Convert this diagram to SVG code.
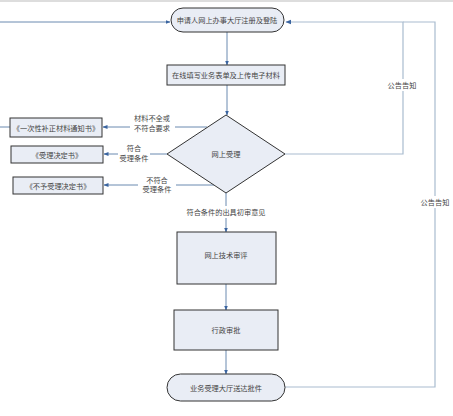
<svg xmlns="http://www.w3.org/2000/svg" width="453" height="416" viewBox="0 0 453 416">
<defs>
<marker id="ah" viewBox="0 0 10 10" refX="9" refY="5" markerWidth="5" markerHeight="5" orient="auto">
<path d="M0,1 L10,5 L0,9 Z" fill="#3a64a0"/>
</marker>
<style>
.node{fill:#e9edf5;stroke:#333;stroke-width:1}
.t{font-family:"Noto Sans CJK SC","Liberation Sans",sans-serif;font-size:7.2px;fill:#444;text-anchor:middle;dominant-baseline:central}
.c{fill:none;stroke:#6a8ab0;stroke-width:1}
.g{fill:none;stroke:#a9bccf;stroke-width:1.2}
.lbg{fill:#fff}
</style>
</defs>
<rect width="453" height="416" fill="#fff"/>
<line x1="0" y1="1" x2="453" y2="1" stroke="#bbb" stroke-width="1"/>
<g id="connectors">
<line class="c" x1="0" y1="22" x2="170" y2="22" marker-end="url(#ah)"/>
<line class="c" x1="227" y1="32" x2="227" y2="65" marker-end="url(#ah)"/>
<line class="c" x1="227" y1="85" x2="227" y2="115" marker-end="url(#ah)"/>
<line class="c" x1="0" y1="127" x2="10" y2="127"/>
<line class="c" x1="207" y1="127" x2="103" y2="127" marker-end="url(#ah)"/>
<line class="c" x1="167" y1="154" x2="104" y2="154" marker-end="url(#ah)"/>
<line class="c" x1="214" y1="185" x2="104" y2="185" marker-end="url(#ah)"/>
<line class="c" x1="226" y1="193" x2="226" y2="232" marker-end="url(#ah)"/>
<line class="c" x1="226" y1="284" x2="226" y2="310" marker-end="url(#ah)"/>
<line class="c" x1="226" y1="350" x2="226" y2="374" marker-end="url(#ah)"/>
<polyline class="g" points="285,154 403,154 403,22 286,22" marker-end="url(#ah)"/>
<polyline class="g" points="285,387 435,387 435,22 403,22"/>
<rect class="lbg" x="130" y="113" width="45" height="20"/>
<text class="t" x="152" y="118">材料不全或</text>
<text class="t" x="152" y="128">不符合要求</text>
<rect class="lbg" x="118" y="143" width="32" height="20"/>
<text class="t" x="134" y="148">符合</text>
<text class="t" x="134" y="158">受理条件</text>
<rect class="lbg" x="138" y="175" width="38" height="19"/>
<text class="t" x="157" y="180">不符合</text>
<text class="t" x="157" y="189">受理条件</text>
<rect class="lbg" x="184" y="206" width="84" height="12"/>
<text class="t" x="226" y="212">符合条件的出具初审意见</text>
<rect class="lbg" x="386" y="79" width="33" height="12"/>
<text class="t" x="402" y="85">公告告知</text>
<rect class="lbg" x="419" y="196" width="33" height="12"/>
<text class="t" x="435" y="202">公告告知</text>
</g>
<g id="n1">
<rect class="node" x="171" y="8" width="113" height="24" rx="12"/>
<text class="t" x="227" y="20">申请人网上办事大厅注册及登陆</text>
</g>
<g id="n2">
<rect class="node" x="167" y="65" width="118" height="20"/>
<text class="t" x="226" y="75">在线填写业务表单及上传电子材料</text>
</g>
<g id="n3">
<polygon class="node" points="226,115 285,154 226,193 167,154"/>
<text class="t" x="226" y="154">网上受理</text>
</g>
<g id="n4">
<rect class="node" x="10" y="118" width="92" height="19"/>
<text class="t" x="56" y="127.5">《一次性补正材料通知书》</text>
</g>
<g id="n5">
<rect class="node" x="11" y="146" width="92" height="17"/>
<text class="t" x="57" y="154.5">《受理决定书》</text>
</g>
<g id="n6">
<rect class="node" x="13" y="177" width="90" height="17"/>
<text class="t" x="58" y="185.5">《不予受理决定书》</text>
</g>
<g id="n7">
<rect class="node" x="177" y="232" width="99" height="52"/>
<text class="t" x="226" y="255">网上技术审评</text>
</g>
<g id="n8">
<rect class="node" x="174" y="310" width="104" height="40"/>
<text class="t" x="226" y="330">行政审批</text>
</g>
<g id="n9">
<rect class="node" x="167" y="374" width="118" height="27" rx="13.5"/>
<text class="t" x="226" y="387.5">业务受理大厅送达批件</text>
</g>
</svg>
